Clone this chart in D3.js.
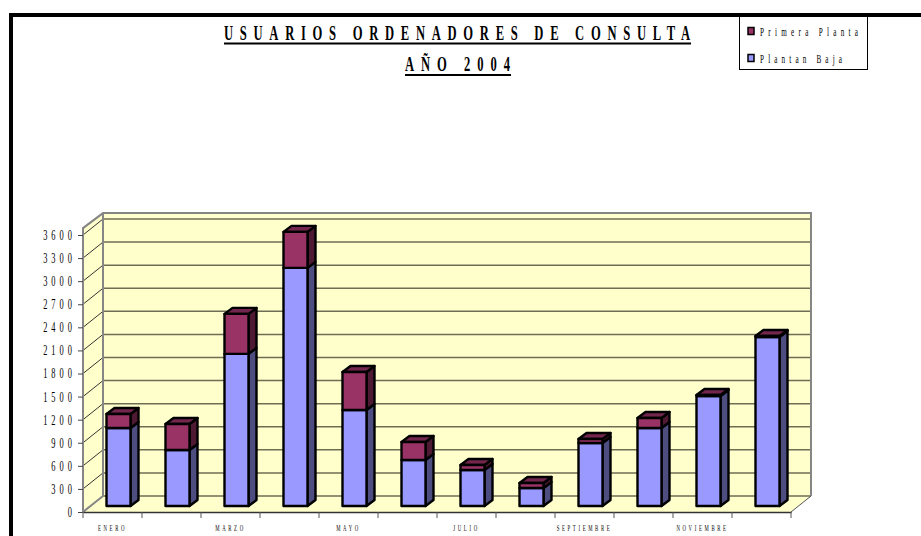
<!DOCTYPE html>
<html><head><meta charset="utf-8">
<script src="https://cdn.jsdelivr.net/npm/d3@7"></script>
<style>html,body{margin:0;padding:0;background:#fff}svg{display:block}text{font-family:"Liberation Serif",serif;fill:#000}</style>
</head><body><svg id="c" width="921" height="536"></svg>
<script>
const months=["ENERO","FEBRERO","MARZO","ABRIL","MAYO","JUNIO","JULIO","AGOSTO","SEPTIEMBRE","OCTUBRE","NOVIEMBRE","DICIEMBRE"];
const shownMonths=["ENERO","MARZO","MAYO","JULIO","SEPTIEMBRE","NOVIEMBRE"];
const plantaBaja=[1014,728,1977,3095,1248,598,468,234,819,1014,1430,2197];
const primeraPlanta=[182,338,520,468,494,234,65,65,52,130,13,13];
const yTicks=[0,300,600,900,1200,1500,1800,2100,2400,2700,3000,3300,3600];
const legendLabels=["Primera Planta","Plantan Baja"];
const titleLines=["USUARIOS ORDENADORES DE CONSULTA","AÑO 2004"];

const svg=d3.select("#c");
// frame
svg.append("rect").attr("x",9).attr("y",13).attr("width",4).attr("height",523).attr("fill","#000");
svg.append("rect").attr("x",9).attr("y",13).attr("width",912).attr("height",4).attr("fill","#000");

const L=83,R=791,dx=20,dy=16;
const y=d3.scaleLinear().domain([0,3600]).range([512,235]);
const x=d3.scaleBand().domain(months).range([L,R]);
const yTop=y(3690), base=y(0);
const pts=a=>a.map(p=>p.join(",")).join(" ");
const wall="#ffffcc",edge="#868686";
// floor, left wall, back wall
svg.append("polygon").attr("points",pts([[L,base],[L+dx,base-dy],[R+dx,base-dy],[R,base]])).attr("fill",wall);
svg.append("polygon").attr("points",pts([[L,base],[L+dx,base-dy],[L+dx,yTop-dy+1],[L,yTop]])).attr("fill",wall);
svg.append("rect").attr("x",L+dx).attr("y",yTop-dy+1).attr("width",R-L).attr("height",base-yTop).attr("fill",wall);
// grid
svg.selectAll("line.g").data(yTicks).join("line").attr("class","g")
 .attr("x1",L+dx).attr("x2",R+dx).attr("y1",d=>y(d)-dy).attr("y2",d=>y(d)-dy)
 .attr("stroke","#6e6e55").attr("stroke-width",1.5);
svg.selectAll("line.d").data(yTicks).join("line").attr("class","d")
 .attr("x1",L).attr("x2",L+dx).attr("y1",d=>y(d)).attr("y2",d=>y(d)-dy)
 .attr("stroke","#333").attr("stroke-width",1);
// wall edges
svg.append("polyline").attr("points",pts([[L,base],[L,yTop],[L+dx,yTop-dy+1],[R+dx,yTop-dy+1],[R+dx,base-dy]])).attr("fill","none").attr("stroke",edge).attr("stroke-width",2);
svg.append("line").attr("x1",L+dx).attr("x2",L+dx).attr("y1",yTop-dy+1).attr("y2",base-dy).attr("stroke",edge).attr("stroke-width",2);
svg.append("line").attr("x1",L).attr("x2",L+dx).attr("y1",base).attr("y2",base-dy).attr("stroke",edge).attr("stroke-width",2);
svg.append("line").attr("x1",R).attr("x2",R+dx).attr("y1",base).attr("y2",base-dy).attr("stroke","#555").attr("stroke-width",1);

// axes
const ay=svg.append("g").attr("transform",`translate(${L},0)`).call(d3.axisLeft(y).tickValues(yTicks).tickSize(5).tickSizeOuter(0).tickFormat(d3.format("d")));
ay.select(".domain").remove();
ay.selectAll("line").attr("stroke","#444");
ay.selectAll("text").attr("x",0).attr("transform","translate(-7,0) scale(.6,1)").attr("font-size",14).attr("letter-spacing",6.7).attr("fill","#222").attr("font-family","Liberation Serif");
const ax=svg.append("g").attr("transform",`translate(0,${base})`).call(d3.axisBottom(x).tickSize(0).tickSizeOuter(0).tickFormat(d=>shownMonths.includes(d)?d:""));
ax.select(".domain").attr("stroke","#333").attr("stroke-width",1.5);
ax.selectAll("text").attr("y",0).attr("x",0).attr("dy",null).attr("transform","translate(0,19) scale(.6,1)").attr("font-size",8).attr("letter-spacing",4.4).attr("fill","#444").attr("font-family","Liberation Serif");
svg.selectAll("line.xt").data(months.concat(["end"])).join("line").attr("class","xt")
 .attr("x1",(d,i)=>x(months[0])+i*x.step()).attr("x2",(d,i)=>x(months[0])+i*x.step())
 .attr("y1",base).attr("y2",base+6).attr("stroke","#555").attr("stroke-width",1);

// bars
const bw=24,off=23.5,bx=8,by=6,floorShift=6;
const Y=v=>y(v)-floorShift;
function box(g,x0,v0,v1,front,side,top){
  const y0=Y(v0),y1=Y(v1),x1=x0+bw;
  const st=s=>s.attr("stroke","#000").attr("stroke-width",2.4).attr("stroke-linejoin","round");
  st(g.append("polygon").attr("points",pts([[x1,y0],[x1+bx,y0-by],[x1+bx,y1-by],[x1,y1]])).attr("fill",side));
  if(top) st(g.append("polygon").attr("points",pts([[x0,y1],[x0+bx,y1-by],[x1+bx,y1-by],[x1,y1]])).attr("fill",top));
  st(g.append("rect").attr("x",x0).attr("y",y1).attr("width",bw).attr("height",y0-y1).attr("fill",front));
}
months.forEach((m,i)=>{
  const g=svg.append("g"),x0=x(m)+off;
  box(g,x0,0,plantaBaja[i],"#9999ff","#4d4d80",null);
  box(g,x0,plantaBaja[i],plantaBaja[i]+primeraPlanta[i],"#993366","#4d1933","#73264d");
});

// title
const sT=.6;
svg.append("text").attr("transform",`translate(224,40) scale(${sT},1)`).attr("font-size",21).attr("font-weight",700).attr("textLength",466/sT).attr("lengthAdjust","spacing").text(titleLines[0]);
svg.append("text").attr("transform",`translate(405,70.5) scale(${sT},1)`).attr("font-size",21).attr("font-weight",700).attr("textLength",105/sT).attr("lengthAdjust","spacing").text(titleLines[1]);
svg.append("rect").attr("x",224).attr("y",42.5).attr("width",467).attr("height",2).attr("fill","#000");
svg.append("rect").attr("x",405).attr("y",74).attr("width",106).attr("height",2).attr("fill","#000");

// legend
svg.append("rect").attr("x",739.5).attr("y",16.5).attr("width",128).attr("height",53).attr("fill","#fff").attr("stroke","#000").attr("stroke-width",1);
const legColors=["#993366","#9999ff"];
const sL=.55;
legendLabels.forEach((t,i)=>{
  const yy=31+i*27;
  svg.append("rect").attr("x",748).attr("y",yy-3.5).attr("width",6).attr("height",7).attr("fill",legColors[i]).attr("stroke","#000").attr("stroke-width",1.5);
  svg.append("text").attr("transform",`translate(760,${yy+4.5}) scale(${sL},1)`).attr("font-size",13).attr("fill","#222").attr("textLength",(i?82:98)/sL).attr("lengthAdjust","spacing").text(t);
});
</script></body></html>
